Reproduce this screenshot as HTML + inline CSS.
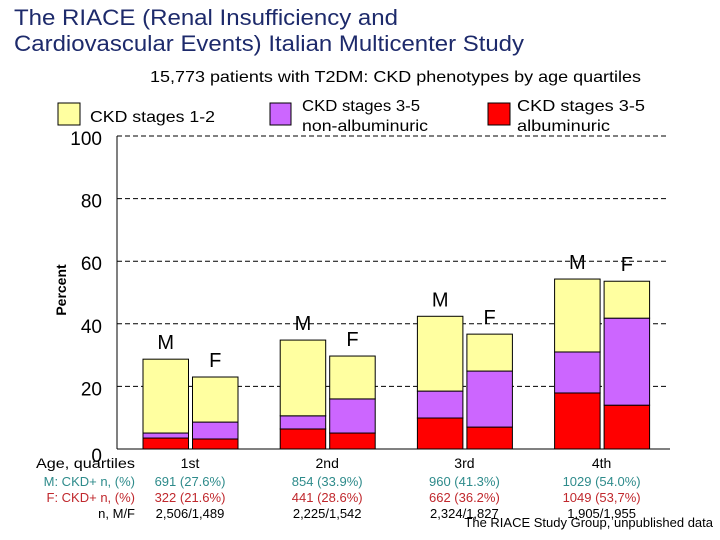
<!DOCTYPE html>
<html><head><meta charset="utf-8"><style>
body{margin:0;background:#fff;font-family:"Liberation Sans",sans-serif}
#wrap{position:relative;width:720px;height:540px;overflow:hidden}
</style></head><body>
<div id="wrap">
<svg id="chart" width="720" height="540" xmlns="http://www.w3.org/2000/svg" font-family="Liberation Sans, sans-serif">
<text x="14" y="25" font-size="22" textLength="384" lengthAdjust="spacingAndGlyphs" fill="#1d2a6b">The RIACE (Renal Insufficiency and</text>
<text x="14" y="51" font-size="22" textLength="510" lengthAdjust="spacingAndGlyphs" fill="#1d2a6b">Cardiovascular Events) Italian Multicenter Study</text>
<text x="150" y="82" font-size="16" textLength="491" lengthAdjust="spacingAndGlyphs">15,773 patients with T2DM: CKD phenotypes by age quartiles</text>
<rect x="58" y="103" width="22" height="22" fill="#ffffa0" stroke="#000"/>
<text x="90" y="122" font-size="16" textLength="125" lengthAdjust="spacingAndGlyphs">CKD stages 1-2</text>
<rect x="270" y="103" width="21" height="22" fill="#cc66ff" stroke="#000"/>
<text font-size="16"><tspan x="302" y="111" textLength="118" lengthAdjust="spacingAndGlyphs">CKD stages 3-5</tspan><tspan x="302" y="131" textLength="126" lengthAdjust="spacingAndGlyphs">non-albuminuric</tspan></text>
<rect x="488" y="103" width="22" height="22" fill="#ff0000" stroke="#000"/>
<text font-size="16"><tspan x="517" y="111" textLength="128" lengthAdjust="spacingAndGlyphs">CKD stages 3-5</tspan><tspan x="517" y="131" textLength="93" lengthAdjust="spacingAndGlyphs">albuminuric</tspan></text>
<text x="0" y="0" font-size="14" font-weight="bold" transform="translate(66,290) rotate(-90)" text-anchor="middle">Percent</text>
<g id="grid"></g><g id="bars"></g><g id="labels"></g>
<line x1="117" y1="136" x2="117" y2="449" stroke="#000"/>
<line x1="117" y1="449" x2="670" y2="449" stroke="#000"/>
<g font-size="14">
<text x="36" y="468" textLength="99" lengthAdjust="spacingAndGlyphs">Age, quartiles</text>
<text x="135" y="486" text-anchor="end" fill="#2e8b8b" font-size="13">M: CKD+ n, (%)</text>
<text x="135" y="502" text-anchor="end" fill="#c0282d" font-size="13">F: CKD+ n, (%)</text>
<text x="135" y="518" text-anchor="end" font-size="13">n, M/F</text>
</g>
<g id="table"></g>
<text x="713" y="527" font-size="13" text-anchor="end">The RIACE Study Group, unpublished data</text>
</svg>
</div>
<script>
const quartiles=["1st","2nd","3rd","4th"];
const sexes=["M","F"];
const redVals=[3.5,3.2,6.4,5.1,9.9,7.0,17.9,14.0];
const purpleVals=[1.6,5.4,4.2,10.9,8.6,17.9,13.1,27.8];
const yellowVals=[23.6,14.4,24.2,13.7,23.9,11.8,23.3,11.8];
const yTicks=[0,20,40,60,80,100];
const mRow=["691 (27.6%)","854 (33.9%)","960 (41.3%)","1029 (54.0%)"];
const fRow=["322 (21.6%)","441 (28.6%)","662 (36.2%)","1049 (53,7%)"];
const nRow=["2,506/1,489","2,225/1,542","2,324/1,827","1,905/1,955"];
const NS="http://www.w3.org/2000/svg";
const y=v=>449-v*(313/100);
const groupX=i=>143+i*137.2;
const barX=(q,s)=>groupX(q)+s*49.5;
const bw=45.5;
function mk(t,a,p){const e=document.createElementNS(NS,t);for(const k in a)e.setAttribute(k,a[k]);p.appendChild(e);return e;}
const grid=document.getElementById('grid');
yTicks.forEach(t=>{
 if(t>0){const l=mk('line',{x1:117,x2:668,y1:y(t),y2:y(t),stroke:'#000','stroke-dasharray':'5,3'},grid);
 
 }
 const tx=mk('text',{x:102,y:y(t)+(t===0?13:9),'font-size':19,'text-anchor':'end'},grid);tx.textContent=t;
 
 
});
const bars=document.getElementById('bars'),labels=document.getElementById('labels');
quartiles.forEach((q,qi)=>{sexes.forEach((s,si)=>{
 const i=qi*2+si,x=barX(qi,si);
 let base=0;
 [[redVals,'#ff0000','red'],[purpleVals,'#cc66ff','purple'],[yellowVals,'#ffffa0','yellow']].forEach(([arr,c,n])=>{
  const v=arr[i];
  const r=mk('rect',{x:x,y:y(base+v),width:bw,height:y(base)-y(base+v),fill:c,stroke:'#000','stroke-width':1},bars);
  
  
  base+=v;
 });
 const lt=mk('text',{x:x+bw/2,y:y(base)-10,'font-size':20,'text-anchor':'middle'},labels);lt.textContent=s;
 
 
});});
const tb=document.getElementById('table');
quartiles.forEach((q,qi)=>{
 const cx=groupX(qi)+47;
 [[q,468,'#000',14,'x-label-'],[mRow[qi],486,'#2e8b8b',13,'m-ckd-'],[fRow[qi],502,'#c0282d',13,'f-ckd-'],[nRow[qi],518,'#000',13,'n-mf-']].forEach(([t,yy,c,fs,n])=>{
  const e=mk('text',{x:cx,y:yy,fill:c,'font-size':fs,'text-anchor':'middle'},tb);e.textContent=t;
  
  
 });
});
</script>
</body></html>
